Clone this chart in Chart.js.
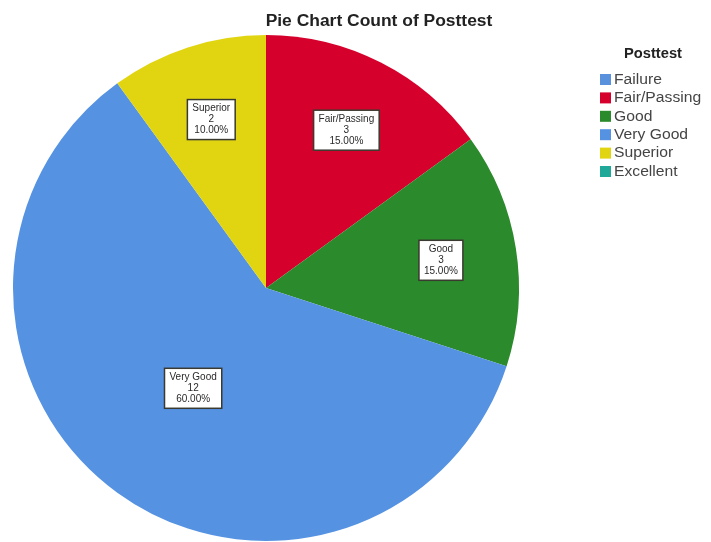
<!DOCTYPE html>
<html>
<head>
<meta charset="utf-8">
<script src="https://cdn.jsdelivr.net/npm/chart.js@4.4.1/dist/chart.umd.min.js"></script>
<style>
  html, body { margin: 0; padding: 0; background: #ffffff; }
  #wrap { position: relative; width: 711px; height: 542px; }
</style>
</head>
<body>
<div id="wrap"><canvas id="pieChart" width="711" height="542"></canvas></div>
<script>
// Posttest categories and counts
const categories = ['Failure', 'Fair/Passing', 'Good', 'Very Good', 'Superior', 'Excellent'];
const counts = [0, 3, 3, 12, 2, 0];
const sliceColors = ['#5a91dc', '#d6002c', '#2b8a2b', '#5592e2', '#e1d512', '#20a898'];
const chartTitle = 'Pie Chart Count of Posttest';
const legendTitle = 'Posttest';

const total = counts.reduce((a, b) => a + b, 0);

// the original picture is a little stretched sideways, so text is widened a bit
function stretchedText(ctx, text, x, y, sx) {
    ctx.save();
    ctx.translate(x, y);
    ctx.scale(sx, 1);
    ctx.fillText(text, 0, 0);
    ctx.restore();
}

/**
 * Boxed labels inside the slices: name, count, percentage
 */
const sliceLabels = {
    id: 'sliceLabels',
    afterDatasetsDraw(chart) {
        const ctx = chart.ctx;
        const meta = chart.getDatasetMeta(0);
        ctx.save();
        ctx.font = '10px "Liberation Sans", Arial, sans-serif';
        ctx.textAlign = 'center';
        ctx.textBaseline = 'middle';

        meta.data.forEach((arc, i) => {
            if (!counts[i]) return;
            const share = counts[i] / total;
            const mid = (arc.startAngle + arc.endAngle) / 2;
            const dist = arc.outerRadius * (share >= 0.5 ? 0.49 : 0.7);
            const cx = arc.x + Math.cos(mid) * dist;
            const cy = arc.y + Math.sin(mid) * dist;

            const lines = [categories[i], String(counts[i]), (share * 100).toFixed(2) + '%'];
            const w = Math.max(...lines.map(l => ctx.measureText(l).width)) + 10;
            const lh = 11;
            const h = lines.length * lh + 7;

            ctx.fillStyle = '#ffffff';
            ctx.fillRect(cx - w / 2, cy - h / 2, w, h);
            ctx.strokeStyle = '#3a3a30';
            ctx.lineWidth = 1.5;
            ctx.strokeRect(cx - w / 2, cy - h / 2, w, h);

            ctx.fillStyle = '#2a2a2a';
            lines.forEach((l, k) => {
                ctx.fillText(l, cx, cy + (k - 1) * lh);
            });
        });
        ctx.restore();
    }
};

/**
 * Title and right-hand legend
 */
const titleAndLegend = {
    id: 'titleAndLegend',
    afterDraw(chart) {
        const ctx = chart.ctx;
        ctx.save();
        ctx.textBaseline = 'middle';

        ctx.fillStyle = '#222222';
        ctx.font = 'bold 16px "Liberation Sans", Arial, sans-serif';
        ctx.textAlign = 'center';
        stretchedText(ctx, chartTitle, 379, 22, 1.09);

        ctx.font = 'bold 14px "Liberation Sans", Arial, sans-serif';
        stretchedText(ctx, legendTitle, 653, 54, 1.05);

        ctx.textAlign = 'left';
        ctx.font = '14px "Liberation Sans", Arial, sans-serif';
        categories.forEach((name, i) => {
            const y = 80 + i * 18.4;
            ctx.fillStyle = sliceColors[i];
            ctx.fillRect(600, y - 6, 11, 11);
            ctx.fillStyle = '#444444';
            stretchedText(ctx, name, 614, y, 1.12);
        });
        ctx.restore();
    }
};

new Chart(document.getElementById('pieChart'), {
    type: 'pie',
    data: {
        labels: categories,
        datasets: [{
            data: counts,
            backgroundColor: sliceColors,
            borderWidth: 0
        }]
    },
    options: {
        responsive: false,
        animation: false,
        layout: {
            padding: { left: 13, right: 192, top: 35, bottom: 1 }
        },
        plugins: {
            legend: { display: false },
            title: { display: false },
            tooltip: { enabled: false }
        }
    },
    plugins: [sliceLabels, titleAndLegend]
});
</script>
</body>
</html>
